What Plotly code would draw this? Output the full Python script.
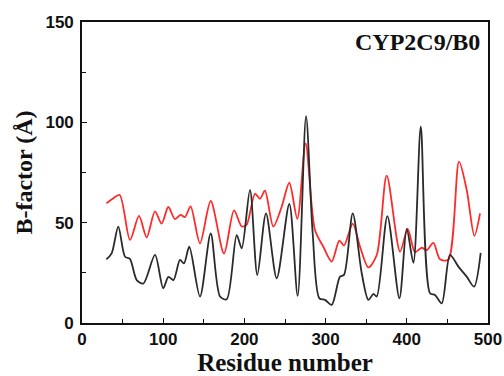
import plotly.graph_objects as go

# Black series (residue, B-factor)
black_x = [30, 36.5, 44.7, 53, 59, 67.4, 75.6, 89.9, 100, 106.4, 112.6, 120.7, 125.6, 132.1,
           145.3, 158.5, 170, 178.2, 190.5, 196.7, 206.9, 215.9, 226.6, 239.8, 255.3, 265.6,
           275.9, 284.1, 292.3, 299.3, 307.5, 317.7, 322.7, 333.4, 344.5, 352.7, 358.9, 363,
           376.1, 390.9, 399.9, 408.1, 417.2, 428.6, 434.8, 443, 453.2, 463.5, 473.8, 482.8, 491]
black_y = [31.7, 34.7, 48, 33, 32, 21.4, 19.7, 33.9, 17.3, 23, 21.4, 31.4, 29.7, 38,
           13.2, 44.6, 13.2, 11.8, 43.8, 37.2, 66.3, 23.9, 54.6, 22.3, 59.3, 13.5,
           103.1, 44.6, 12.3, 11.5, 9, 23.1, 24, 54.6, 24.8, 11.5, 14.5, 13.2,
           53.3, 12.3, 46.9, 30, 97.8, 14.8, 14, 9.8, 33.9, 28.1, 23.1, 18.1, 35]

# Red series (residue, B-factor)
red_x = [30, 38.2, 46.4, 59.1, 70.2, 79.6, 89.9, 98.1, 106.3, 114.5, 121.5, 126.8, 133.7,
         145.3, 158.5, 174.9, 187.2, 196.7, 202.8, 213, 219.2, 225.3, 235.6, 245.9, 255.3,
         265.2, 275.4, 286.9, 297.2, 307.5, 316.9, 322.7, 333.4, 342.4, 352.7, 363, 375.3,
         391.7, 401.1, 410.1, 418.3, 424.5, 432.7, 440.9, 451.1, 464.3, 473.8, 483.2, 490.2]
red_y = [59.6, 62.1, 63.8, 41.4, 53.4, 42.7, 55.6, 49.5, 57.8, 51.8, 53.9, 52.8, 58.1,
         39.7, 60.8, 34.6, 56.1, 48.1, 49, 64.4, 61.9, 66, 48.1, 57.9, 69.9,
         51.9, 89.5, 46.3, 38, 30.6, 41.1, 38.6, 49.5, 38, 27.7, 33.9, 73.4,
         35.6, 46.9, 35.3, 37.5, 36.3, 39.9, 31.8, 31.5, 80.4, 66.3, 43.4, 54.6]

x_ticks = [0, 100, 200, 300, 400, 500]
y_ticks = [0, 50, 100, 150]

fig = go.Figure()
fig.add_trace(go.Scatter(x=red_x, y=red_y, mode="lines",
                         line=dict(color="#ff2a2a", width=1.8, shape="spline", smoothing=0.8)))
fig.add_trace(go.Scatter(x=black_x, y=black_y, mode="lines",
                         line=dict(color="#2a2a2a", width=1.8, shape="spline", smoothing=0.8)))

axis_common = dict(showgrid=False, zeroline=False, showline=True, linecolor="#111",
                   linewidth=1.6, mirror=True, ticks="inside", ticklen=5, tickwidth=1.3,
                   tickcolor="#111", automargin=False,
                   tickfont=dict(family="Liberation Sans, Arial", size=17, color="#111"))

fig.update_xaxes(range=[0, 500], tickvals=x_ticks, ticktext=[f"<b>{v}</b>" for v in x_ticks],
                 minor=dict(ticks="inside", ticklen=4, dtick=50, tick0=0, tickcolor="#111"),
                 title=dict(text="<b>Residue number</b>", standoff=2,
                            font=dict(family="Liberation Serif, Times New Roman", size=25, color="#111")),
                 **axis_common)
fig.update_yaxes(range=[0, 150], tickvals=y_ticks, ticktext=[f"<b>{v}</b>" for v in y_ticks],
                 ticklabelstandoff=3,
                 minor=dict(ticks="inside", ticklen=4, dtick=25, tick0=0, tickcolor="#111"),
                 title=dict(text="<b>B-factor (Å)</b>", standoff=6,
                            font=dict(family="Liberation Serif, Times New Roman", size=24, color="#111")),
                 **axis_common)

fig.add_annotation(x=0.985, y=0.985, xref="paper", yref="paper", xanchor="right", yanchor="top",
                   text="<b>CYP2C9/B0</b>", showarrow=False,
                   font=dict(family="Liberation Serif, Times New Roman", size=24, color="#111"))

fig.update_layout(width=504, height=376, showlegend=False,
                  margin=dict(l=82, r=16, t=22, b=53),
                  plot_bgcolor="white", paper_bgcolor="white")

# remove the page's default body margin so the figure sits at the window origin
fig.write_html("out.html", config={"displayModeBar": False},
               post_script="document.body.style.margin='0';")
